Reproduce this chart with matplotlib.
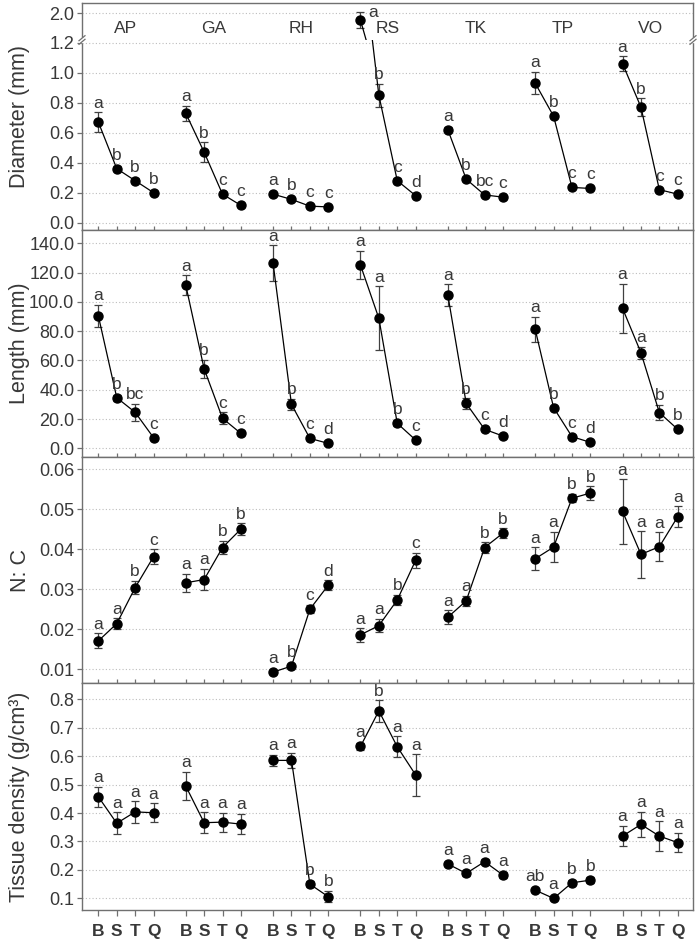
import numpy as np
import matplotlib.pyplot as plt
from matplotlib.lines import Line2D
from matplotlib.patches import Rectangle
import matplotlib.transforms as mtransforms

groups = ['AP', 'GA', 'RH', 'RS', 'TK', 'TP', 'VO']
stages = ['B', 'S', 'T', 'Q']

# diameter (mm)
diam_mean = [[0.67, 0.36, 0.28, 0.20],
             [0.73, 0.47, 0.19, 0.115],
             [0.19, 0.155, 0.11, 0.105],
             [1.89, 0.85, 0.28, 0.18],
             [0.62, 0.29, 0.185, 0.17],
             [0.93, 0.71, 0.235, 0.228],
             [1.06, 0.77, 0.22, 0.19]]
diam_err = [[0.067, 0.015, 0.015, 0.01],
            [0.05, 0.067, 0.015, 0.008],
            [0.01, 0.01, 0.008, 0.008],
            [0.13, 0.077, 0.015, 0.01],
            [0.015, 0.015, 0.01, 0.01],
            [0.075, 0.015, 0.012, 0.012],
            [0.05, 0.06, 0.01, 0.01]]
diam_let = [['a', 'b', 'b', 'b'], ['a', 'b', 'c', 'c'], ['a', 'b', 'c', 'c'],
            ['a', 'b', 'c', 'd'], ['a', 'b', 'bc', 'c'], ['a', 'b', 'c', 'c'],
            ['a', 'b', 'c', 'c']]

# length (mm)
len_mean = [[90.4, 34.6, 24.6, 7.3],
            [111.5, 54.3, 20.5, 10.2],
            [126.3, 30.0, 6.8, 3.4],
            [125.2, 88.8, 17.1, 5.7],
            [104.7, 30.7, 13.0, 8.4],
            [81.3, 27.8, 8.0, 4.1],
            [95.6, 65.3, 24.4, 13.0]]
len_err = [[7.6, 2.0, 5.8, 1.0],
           [6.8, 6.2, 4.0, 1.0],
           [12.3, 4.0, 1.0, 0.8],
           [9.8, 21.8, 2.0, 1.0],
           [7.5, 3.5, 1.0, 1.0],
           [8.6, 1.0, 1.0, 0.8],
           [16.8, 4.2, 5.3, 1.0]]
len_let = [['a', 'b', 'bc', 'c'], ['a', 'b', 'c', 'c'], ['a', 'b', 'c', 'd'],
           ['a', 'a', 'b', 'c'], ['a', 'b', 'c', 'd'], ['a', 'b', 'c', 'd'],
           ['a', 'a', 'b', 'b']]

# N:C
nc_mean = [[0.0171, 0.0214, 0.0304, 0.0381],
           [0.0316, 0.0324, 0.0404, 0.0450],
           [0.0093, 0.0108, 0.0250, 0.0310],
           [0.0186, 0.0209, 0.0273, 0.0372],
           [0.0230, 0.0271, 0.0404, 0.0440],
           [0.0376, 0.0405, 0.0527, 0.0540],
           [0.0494, 0.0387, 0.0406, 0.0481]]
nc_err = [[0.0019, 0.0013, 0.0017, 0.0019],
          [0.0023, 0.0027, 0.0017, 0.0015],
          [0.0005, 0.0005, 0.0010, 0.0012],
          [0.0017, 0.0017, 0.0013, 0.0019],
          [0.0018, 0.0013, 0.0013, 0.0012],
          [0.0029, 0.0038, 0.0010, 0.0017],
          [0.0080, 0.0058, 0.0036, 0.0026]]
nc_let = [['a', 'a', 'b', 'c'], ['a', 'a', 'b', 'b'], ['a', 'b', 'c', 'd'],
          ['a', 'a', 'b', 'c'], ['a', 'a', 'b', 'b'], ['a', 'a', 'b', 'b'],
          ['a', 'a', 'a', 'a']]

# tissue density (g/cm3)
td_mean = [[0.457, 0.364, 0.404, 0.401],
           [0.495, 0.366, 0.368, 0.361],
           [0.585, 0.585, 0.150, 0.106],
           [0.634, 0.759, 0.633, 0.534],
           [0.221, 0.188, 0.229, 0.182],
           [0.129, 0.100, 0.155, 0.164],
           [0.319, 0.360, 0.319, 0.296]]
td_err = [[0.035, 0.039, 0.038, 0.034],
          [0.050, 0.036, 0.033, 0.036],
          [0.020, 0.027, 0.010, 0.020],
          [0.013, 0.038, 0.036, 0.073],
          [0.008, 0.008, 0.008, 0.010],
          [0.008, 0.005, 0.008, 0.010],
          [0.036, 0.045, 0.052, 0.034]]
td_let = [['a', 'a', 'a', 'a'], ['a', 'a', 'a', 'a'], ['a', 'a', 'b', 'b'],
          ['a', 'b', 'a', 'a'], ['a', 'a', 'a', 'a'], ['ab', 'a', 'b', 'b'],
          ['a', 'a', 'a', 'a']]

plt.rcParams['font.family'] = ['Liberation Sans', 'DejaVu Sans']
txt = '#383838'
spine_c = '#707070'
W, H = 700, 942
fig = plt.figure(figsize=(7, 9.42), dpi=100)


def box(top, bottom, left=82, right=693):
    return [left / W, 1 - bottom / H, (right - left) / W, (bottom - top) / H]


ax_hi = fig.add_axes(box(3, 40))
ax_d = fig.add_axes(box(40, 230))
ax_l = fig.add_axes(box(230, 457))
ax_n = fig.add_axes(box(457, 683))
ax_t = fig.add_axes(box(683, 910))

xs = np.array([[g * 4.75 + i for i in range(4)] for g in range(len(groups))])


def draw(ax, mean, err):
    for g in range(len(groups)):
        ax.errorbar(xs[g], mean[g], yerr=err[g], fmt='none', ecolor='#404040',
                    elinewidth=0.9, capsize=3.2, capthick=0.9, zorder=2)
        ax.plot(xs[g], mean[g], '-', color='black', lw=0.9, zorder=3)
        ax.plot(xs[g], mean[g], 'o', color='black', ms=6.5, zorder=4)


def letters(ax, mean, err, labs):
    for g in range(len(groups)):
        for i in range(4):
            y0 = ax.transData.transform((0, mean[g][i]))[1]
            y1 = ax.transData.transform((0, mean[g][i] + err[g][i]))[1]
            off = max(y1 - y0, 4.5) + 4.5
            ax.annotate(labs[g][i], (xs[g][i], mean[g][i]),
                        xytext=(0, off * 0.72), textcoords='offset points',
                        ha='center', va='baseline', fontsize=12.5, color=txt)


def style(ax, ticks, fmt):
    ax.set_xlim(-0.89, xs[-1][-1] + 0.83)
    ax.set_yticks(ticks)
    ax.set_yticklabels([fmt % t for t in ticks])
    ax.yaxis.grid(True, linestyle=(0, (1, 2)), color='#bdbdbd', lw=0.8)
    ax.set_axisbelow(True)
    for s in ax.spines.values():
        s.set_color(spine_c)
        s.set_linewidth(1.0)
    ax.tick_params(axis='y', direction='out', length=3.5, width=0.9,
                   color=spine_c, labelsize=13, labelcolor=txt, pad=2)
    ax.set_xticks(xs.flatten())
    ax.tick_params(axis='x', direction='in', length=3, width=0.9,
                   color=spine_c, labelbottom=False)


# diameter, broken axis
for ax in (ax_hi, ax_d):
    draw(ax, diam_mean, diam_err)
ax_d.set_ylim(-0.049, 1.218)
ax_hi.set_ylim(1.569, 2.166)
style(ax_d, [0, 0.2, 0.4, 0.6, 0.8, 1.0, 1.2], '%.1f')
style(ax_hi, [2.0], '%.1f')
ax_hi.tick_params(axis='x', length=0)
ax_hi.spines['bottom'].set_visible(False)
ax_d.spines['top'].set_visible(False)
letters(ax_d, diam_mean, diam_err, diam_let)
for g in range(len(groups)):
    for i in range(4):
        if diam_mean[g][i] > 1.3:
            ax_hi.annotate(diam_let[g][i], (xs[g][i], diam_mean[g][i]),
                           xytext=(9, 5.5), textcoords='offset points',
                           ha='center', va='center', fontsize=12.5, color=txt)

trans = mtransforms.blended_transform_factory(ax_hi.transData, ax_hi.transAxes)
for g, name in enumerate(groups):
    ax_hi.text(xs[g].mean(), 0.32, name, transform=trans, ha='center',
               va='center', fontsize=12.5, color=txt)

# break marks
for bx in (82, 693):
    fig.add_artist(Rectangle(((bx - 3) / W, 1 - 42 / H), 6 / W, 4 / H,
                             transform=fig.transFigure, color='white', zorder=10))
    for dy in (-1.8, 1.8):
        y = 40 + dy
        fig.add_artist(Line2D([(bx - 3) / W, (bx + 3) / W],
                              [1 - (y + 2.5) / H, 1 - (y - 2.5) / H],
                              transform=fig.transFigure, color=spine_c,
                              lw=0.9, zorder=11))

# length
draw(ax_l, len_mean, len_err)
ax_l.set_ylim(-5.9, 149.1)
style(ax_l, list(range(0, 141, 20)), '%.1f')
letters(ax_l, len_mean, len_err, len_let)

# N:C
draw(ax_n, nc_mean, nc_err)
ax_n.set_ylim(0.00658, 0.063)
style(ax_n, [0.01, 0.02, 0.03, 0.04, 0.05, 0.06], '%.2f')
letters(ax_n, nc_mean, nc_err, nc_let)

# tissue density
draw(ax_t, td_mean, td_err)
ax_t.set_ylim(0.0592, 0.857)
style(ax_t, [0.1, 0.2, 0.3, 0.4, 0.5, 0.6, 0.7, 0.8], '%.1f')
letters(ax_t, td_mean, td_err, td_let)
ax_t.set_xticklabels(stages * len(groups))
ax_t.tick_params(axis='x', direction='out', length=4, labelbottom=True,
                 labelsize=12.5, labelcolor=txt, pad=6)
for lab in ax_t.get_xticklabels():
    lab.set_fontweight('bold')

ylabels = ['Diameter (mm)', 'Length (mm)', 'N: C', 'Tissue density (g/cm³)']
centers = [116.5, 343.5, 570, 796.5]
for lab, cy in zip(ylabels, centers):
    fig.text(20 / W, 1 - cy / H, lab, rotation=90, ha='center', va='center',
             fontsize=15.5, color=txt)

fig.savefig('out.png', dpi=100)
